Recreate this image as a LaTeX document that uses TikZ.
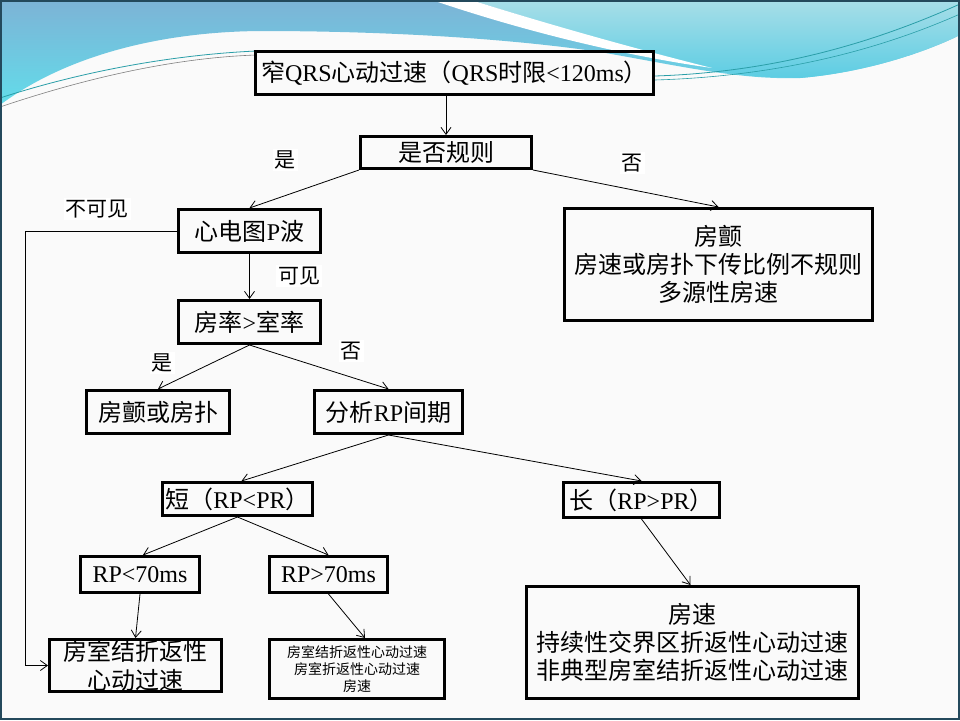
\documentclass[tikz,border=0pt]{standalone}
\usepackage{fontspec}
\setmainfont{Noto Sans CJK SC}
\newfontfamily\latn{Liberation Serif}
\newcommand{\en}[1]{{\latn #1}}
\usetikzlibrary{arrows.meta}
\definecolor{bannerblue}{HTML}{7DB3D6}
\definecolor{bannercyan}{HTML}{62DCEA}
\definecolor{bannerlight}{HTML}{A8DEE8}
\definecolor{bannerdeep}{HTML}{5CCDE3}
\definecolor{bannerline}{HTML}{2A9EA8}
\definecolor{slideframe}{HTML}{24495C}
\definecolor{slidebody}{HTML}{FAFAFA}

\begin{document}
\begin{tikzpicture}[x=1pt,y=-1pt,
  box/.style={draw, line width=3pt, inner sep=0pt, align=center, font=\fontsize{24}{28}\selectfont},
  lbl/.style={fill=white, inner sep=2pt, font=\fontsize{21}{24}\selectfont},
  arr/.style={-{Straight Barb[length=7pt,width=10pt]}, line width=0.8pt}]
\useasboundingbox (0,0) rectangle (960,720);

% slide background
\fill[slidebody] (0,0) rectangle (960,720);
\shade[top color=bannerblue, bottom color=bannercyan] (0,0) -- (960,0) -- (960,35)
  .. controls (930,50) and (870,72) .. (800,78)
  .. controls (740,80) and (680,66) .. (600,52)
  .. controls (520,40) and (400,31) .. (260,31)
  .. controls (150,32) and (60,60) .. (0,105) -- cycle;
\shade[top color=bannerlight, bottom color=bannerdeep] (471,0)
  .. controls (560,28) and (640,52) .. (700,66)
  .. controls (740,76) .. (800,78)
  .. controls (870,72) and (930,50) .. (960,35) -- (960,0) -- cycle;
\fill[white] (432,0) .. controls (520,30) and (620,55) .. (712,68)
  .. controls (640,50) and (550,25) .. (471,0) -- cycle;
\draw[bannerline, line width=0.8pt] (0,98) .. controls (80,72) and (170,55) .. (256,51);
\draw[gray, line width=0.6pt] (0,107) .. controls (80,80) and (170,58) .. (256,55);
\draw[bannerline, line width=0.8pt] (655,76) .. controls (780,72) and (880,40) .. (960,4);
\draw[bannerline, line width=0.6pt] (655,80) .. controls (790,76) and (890,45) .. (960,14);
\draw[slideframe, line width=2pt] (1,1) rectangle (959,719);

% boxes
\node[box, minimum width=398pt, minimum height=43pt] (title) at (454.5,73)
  {窄\en{QRS}心动过速（\en{QRS}时限\en{<120ms}）};
\node[box, minimum width=171pt, minimum height=32pt] (rule) at (446,152.5) {是否规则};
\node[box, minimum width=142pt, minimum height=43pt] (pwave) at (249.5,231) {心电图\en{P}波};
\node[box, minimum width=308pt, minimum height=112pt] (afib) at (718.5,264.5)
  {房颤\\房速或房扑下传比例不规则\\多源性房速};
\node[box, minimum width=142pt, minimum height=43pt] (rate) at (249.5,322) {房率\en{>}室率};
\node[box, minimum width=143pt, minimum height=43pt] (aflut) at (158,412) {房颤或房扑};
\node[box, minimum width=148pt, minimum height=43pt] (rpint) at (388.5,412) {分析\en{RP}间期};
\node[box, minimum width=150pt, minimum height=33pt] (short) at (237.5,499) {短（\en{RP<PR}）};
\node[box, minimum width=156pt, minimum height=35pt] (long) at (641.5,500) {长（\en{RP>PR}）};
\node[box, minimum width=119pt, minimum height=36pt] (lt70) at (140,574.5) {\en{RP<70ms}};
\node[box, minimum width=118pt, minimum height=36pt] (gt70) at (328.5,574.5) {\en{RP>70ms}};
\node[box, minimum width=172pt, minimum height=52pt, font=\fontsize{24}{29}\selectfont] (avnrt) at (135.5,665.5)
  {房室结折返性\\心动过速};
\node[box, minimum width=175pt, minimum height=59pt, font=\fontsize{14}{17}\selectfont] (mixed) at (357,669)
  {房室结折返性心动过速\\房室折返性心动过速\\房速};
\node[box, minimum width=332pt, minimum height=112pt] (tachy) at (692.5,642.5)
  {房速\\持续性交界区折返性心动过速\\非典型房室结折返性心动过速};

% branch labels
\node[lbl] (yes1) at (285,160) {是};
\node[lbl] (no1) at (632,163) {否};
\node[lbl] (unseen) at (97,209) {不可见};
\node[lbl] (seen) at (299,276) {可见};
\node[lbl] (yes2) at (162,363) {是};
\node[lbl] (no2) at (351,351) {否};

% connectors
\coordinate (side) at (25,0);
\draw[arr] (title.south -| rule.north) -- (rule.north);
\draw[arr] (rule.south west) -- (pwave.north);
\draw[arr] (rule.south east) -- (afib.north);
\draw[arr] (pwave.west) -- (pwave.west -| side) |- (avnrt.west);
\draw[arr] (pwave.south) -- (rate.north);
\draw[arr] (rate.south) -- (aflut.north);
\draw[arr] (rate.south) -- (rpint.north);
\draw[arr] (rpint.south) -- ([xshift=4pt]short.north);
\draw[arr] (rpint.south) -- (long.north);
\draw[arr] (short.south) -- ([xshift=3pt]lt70.north);
\draw[arr] (short.south) -- (gt70.north);
\draw[arr] (lt70.south) -- (avnrt.north);
\draw[arr] (gt70.south) -- ([xshift=8pt]mixed.north);
\draw[arr] (long.south) -- ([xshift=-2pt]tachy.north);
\end{tikzpicture}
\end{document}
